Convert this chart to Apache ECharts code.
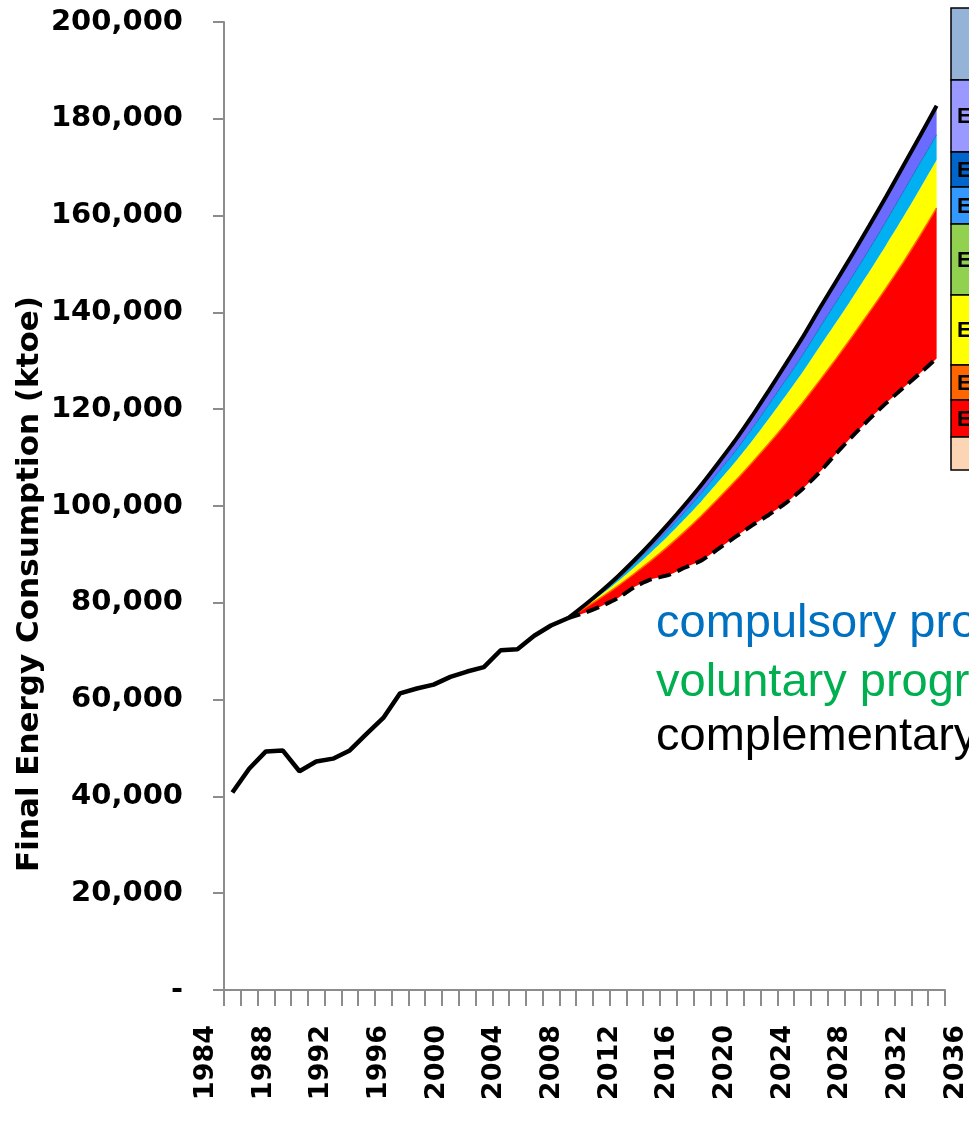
<!DOCTYPE html>
<html>
<head>
<meta charset="utf-8">
<script src="https://cdn.jsdelivr.net/npm/echarts@6/dist/echarts.min.js"></script>
<style>
html,body{margin:0;padding:0;background:#fff;}
#chart{width:969px;height:1124px;}
</style>
</head>
<body>
<div id="chart"></div>
<script>
// ---- data (ktoe) ----
const categories = ['P01','P02','P03','P04','P05','P06','P07','P08','P09','P10','P11','P12','P13','P14','P15','P16','P17','P18','P19','P20','P21','P22','P23','P24','P25','P26','P27','P28','P29','P30','P31','P32','P33','P34','P35','P36','P37','P38','P39','P40','P41','P42','P43'];
const tickYears = [1984,1988,1992,1996,2000,2004,2008,2012,2016,2020,2024,2028,2032,2036];
const historical = [40800,45700,49300,49500,45200,47200,47800,49500,52900,56200,61300,62300,63100,64700,65800,66700,70200,70400,73200,75300,76800];
const baselineScenario = [76800,79500,82400,85500,88900,92500,96300,100300,104500,109000,113600,118600,123900,129300,134800,140700,146400,152100,158000,164000,170200,176400,182700];
const lowerScenario = [76800,77900,79300,81000,83300,84900,85700,87300,88800,91200,93600,96000,98200,100600,103500,106900,110800,114500,118000,121300,124400,127400,130500];
const redBand    = [0,1000,1800,2500,2800,3900,6000,7500,9300,10400,11600,13000,14700,16400,17800,18900,19600,20700,22100,23800,25900,28400,31100];
const yellowBand = [0,300,600,950,1300,1750,2150,2600,3000,3500,3950,4500,5200,5800,6350,7000,7500,7950,8400,8900,9350,9700,9900];
const cyanBand   = [0,150,350,500,750,950,1200,1450,1700,1950,2200,2500,2900,3200,3500,3900,4200,4400,4650,4900,5200,5350,5200];
const purpleBand = [0,150,350,550,750,1000,1250,1450,1700,1950,2250,2600,2900,3300,3650,4000,4300,4550,4850,5100,5350,5550,6000];
const projStart = 20;
const legendColors = ['#95B3D7','#9999FF','#0066CC','#3399FF','#92D050','#FFFF00','#FF6600','#FF0000','#FCD5B4'];
const legendLabels = ['','E','E','E','E','E','E','E',''];
const legendRowEdges = [8,80,152,187,224,295,365,400,437,470];
const notes = [
  {text:'compulsory programmes', color:'#0070C0'},
  {text:'voluntary programmes', color:'#00B050'},
  {text:'complementary measures', color:'#000000'}
];
const yTitle = 'Final Energy Consumption (ktoe)';

// ---- helpers ----
function full(arr, offset){
  const out = new Array(categories.length).fill(null);
  arr.forEach((v,i)=>{ out[offset+i] = v; });
  return out;
}
const AX = '#8C8C8C';
const chart = echarts.init(document.getElementById('chart'), null, {renderer:'canvas'});

const graphics = [];
legendColors.forEach((c,i)=>{
  const top = legendRowEdges[i], h = legendRowEdges[i+1]-top;
  graphics.push({type:'rect', shape:{x:951,y:top,width:60,height:h}, style:{fill:c, stroke:'#000', lineWidth:1.5}, z:10});
  if (legendLabels[i]) graphics.push({type:'text', x:957, y:top+h/2+1, style:{text:legendLabels[i], font:'bold 22px "Liberation Sans", Arial', fill:'#000', verticalAlign:'middle', align:'left'}, z:11});
});
const noteY = [624, 683, 737];
notes.forEach((n,i)=>{
  graphics.push({type:'text', x:656, y:noteY[i], style:{text:n.text, font:'47px "Liberation Sans", Arial', fill:n.color, verticalAlign:'middle', align:'left'}, z:10});
});
graphics.push({type:'text', x:30, y:584, rotation:Math.PI/2, style:{text:yTitle, font:'bold 31px "DejaVu Sans"', fill:'#000', align:'center', verticalAlign:'middle'}, z:10});

const projSmooth = 0.2;
const option = {
  animation:false,
  backgroundColor:'#fff',
  grid:[
    {left:224, right:24, top:22, bottom:134},
    {left:206, right:13, top:22, bottom:134}
  ],
  xAxis:[
    {type:'category', gridIndex:0, data:categories, boundaryGap:true,
     axisLine:{lineStyle:{color:AX, width:2}},
     axisTick:{show:true, interval:0, length:16, lineStyle:{color:AX, width:2}},
     axisLabel:{show:false}, splitLine:{show:false}},
    {type:'value', gridIndex:1, min:tickYears[0], max:tickYears[tickYears.length-1], interval:4,
     axisLine:{show:false}, axisTick:{show:false}, splitLine:{show:false},
     axisLabel:{rotate:90, margin:35, color:'#000', fontFamily:'DejaVu Sans', fontWeight:'bold', fontSize:27,
       formatter:(v)=> tickYears.indexOf(v) >= 0 ? String(v) : ''}}
  ],
  yAxis:[
    {type:'value', gridIndex:0, min:0, max:200000, interval:20000,
     axisLine:{show:true, lineStyle:{color:AX, width:2}},
     axisTick:{show:true, length:11, lineStyle:{color:AX, width:2}},
     splitLine:{show:false},
     axisLabel:{margin:41, color:'#000', fontFamily:'DejaVu Sans', fontWeight:'bold', fontSize:29,
       formatter:(v)=> v===0 ? '-' : v.toLocaleString('en-US')}},
    {type:'value', gridIndex:1, show:false, min:0, max:1}
  ],
  graphic:graphics,
  series:[
    {name:'base', type:'line', stack:'p', data:full(lowerScenario,projStart), symbol:'none', smooth:projSmooth, lineStyle:{width:0, opacity:0}, silent:true},
    {name:'red', type:'line', stack:'p', data:full(redBand,projStart), symbol:'none', smooth:projSmooth, lineStyle:{color:'#FF6600', width:1.5}, areaStyle:{color:'#FF0000', opacity:1}},
    {name:'yellow', type:'line', stack:'p', data:full(yellowBand,projStart), symbol:'none', smooth:projSmooth, lineStyle:{width:0, opacity:0}, areaStyle:{color:'#FFFF00', opacity:1}},
    {name:'cyan', type:'line', stack:'p', data:full(cyanBand,projStart), symbol:'none', smooth:projSmooth, lineStyle:{color:'#1F6FC0', width:1}, areaStyle:{color:'#00B0F0', opacity:1}},
    {name:'purple', type:'line', stack:'p', data:full(purpleBand,projStart), symbol:'none', smooth:projSmooth, lineStyle:{width:0, opacity:0}, areaStyle:{color:'#6B6BFF', opacity:1}},
    {name:'lower', type:'line', data:full(lowerScenario,projStart), symbol:'none', smooth:projSmooth, lineStyle:{color:'#000', width:4, type:[13,7]}, z:5},
    {name:'baseline', type:'line', data:full(baselineScenario,projStart), symbol:'none', smooth:projSmooth, lineStyle:{color:'#000', width:4}, z:6},
    {name:'historical', type:'line', data:full(historical,0), symbol:'none', lineStyle:{color:'#000', width:4.5}, z:6}
  ]
};
chart.setOption(option);
</script>
</body>
</html>
